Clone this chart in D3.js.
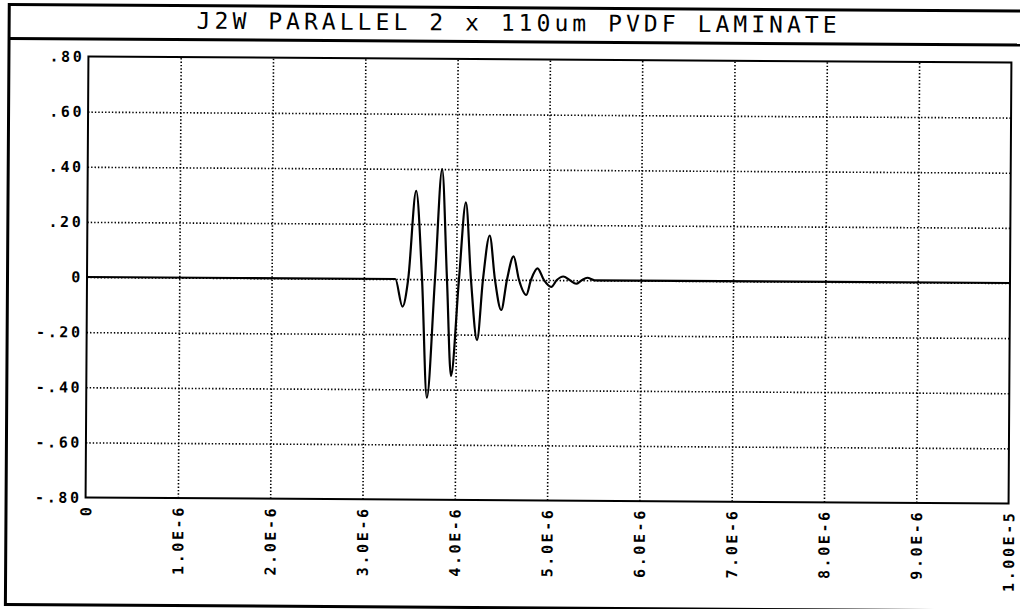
<!DOCTYPE html>
<html>
<head>
<meta charset="utf-8">
<script src="https://d3js.org/d3.v7.min.js"></script>
<style>
    body { margin: 0; background: #fff; }
    svg { display: block; }
</style>
</head>
<body>
<div id="chart"></div>
<script>
const title = 'J2W PARALLEL 2 x 110um PVDF LAMINATE'

// trace: time in microseconds, amplitude in volts
const timeUs = [0, 3.34, 3.42, 3.48, 3.56, 3.63, 3.69, 3.77, 3.84, 3.90, 3.95, 4.03, 4.10, 4.16,
    4.23, 4.29, 4.36, 4.42, 4.49, 4.55, 4.62, 4.68, 4.76, 4.81, 4.88, 4.95, 5.03, 5.09, 5.16,
    5.23, 5.30, 5.36, 5.42, 5.50, 10]
const volts = [0, 0, -0.10, 0, 0.32, 0, -0.43, 0, 0.40, 0, -0.35, 0, 0.28, 0,
    -0.22, 0, 0.16, 0, -0.11, 0, 0.085, 0, -0.055, 0, 0.042, 0, -0.025, 0, 0.013,
    0, -0.013, 0, 0.009, 0, 0]

const xTicksUs = [0, 1, 2, 3, 4, 5, 6, 7, 8, 9, 10]
const xTickLabels = ['0', '1.0E-6', '2.0E-6', '3.0E-6', '4.0E-6', '5.0E-6', '6.0E-6',
    '7.0E-6', '8.0E-6', '9.0E-6', '1.00E-5']
const yTicks = [0.8, 0.6, 0.4, 0.2, 0, -0.2, -0.4, -0.6, -0.8]
const yTickLabels = ['.80', '.60', '.40', '.20', '0', '-.20', '-.40', '-.60', '-.80']

const W = 1020, H = 609
const plotLeft = 87, plotRight = 1010, plotTop = 59.5, plotBottom = 500.5
const labelFont = '"DejaVu Sans Mono", monospace'

const svg = d3.select('#chart').append('svg')
    .attr('width', W)
    .attr('height', H)

// the scan is slightly tilted
const root = svg.append('g')
    .attr('transform', 'rotate(0.37, 548, 280)')

const x = d3.scaleLinear().domain([0, 10]).range([plotLeft, plotRight])
const y = d3.scaleLinear().domain([-0.8, 0.8]).range([plotBottom, plotTop])

// outer frame (its right side runs off the scan) and title band
root.append('rect')
    .attr('x', 7.5)
    .attr('y', 8)
    .attr('width', 1030)
    .attr('height', 600)
    .attr('fill', 'none')
    .attr('stroke', '#000')
    .attr('stroke-width', 3)

root.append('line')
    .attr('x1', 7.5)
    .attr('x2', 1030)
    .attr('y1', 42)
    .attr('y2', 42)
    .attr('stroke', '#000')
    .attr('stroke-width', 3)

root.append('text')
    .attr('x', 515)
    .attr('y', 31)
    .attr('text-anchor', 'middle')
    .attr('textLength', 640)
    .attr('lengthAdjust', 'spacing')
    .attr('font-family', labelFont)
    .attr('font-size', '23px')
    .attr('fill', '#000')
    .text(title)

// dotted grid
root.append('g')
    .attr('transform', `translate(0,${plotBottom})`)
    .call(d3.axisBottom(x)
        .tickValues(xTicksUs.slice(1, -1))
        .tickSize(-(plotBottom - plotTop))
        .tickFormat(''))
    .call(g => g.select('.domain').remove())
    .call(g => g.selectAll('line')
        .attr('stroke', '#000')
        .attr('stroke-width', 1.6)
        .attr('stroke-dasharray', '1.4,2'))

root.append('g')
    .attr('transform', `translate(${plotLeft},0)`)
    .call(d3.axisLeft(y)
        .tickValues(yTicks.slice(1, -1))
        .tickSize(-(plotRight - plotLeft))
        .tickFormat(''))
    .call(g => g.select('.domain').remove())
    .call(g => g.selectAll('line')
        .attr('stroke', '#000')
        .attr('stroke-width', 1.6)
        .attr('stroke-dasharray', '1.4,2'))

// plot frame
root.append('rect')
    .attr('x', plotLeft)
    .attr('y', plotTop)
    .attr('width', plotRight - plotLeft)
    .attr('height', plotBottom - plotTop)
    .attr('fill', 'none')
    .attr('stroke', '#000')
    .attr('stroke-width', 2)

// y labels
root.append('g')
    .attr('transform', `translate(${plotLeft},0)`)
    .call(d3.axisLeft(y)
        .tickValues(yTicks)
        .tickSize(0)
        .tickPadding(4)
        .tickFormat((d, i) => yTickLabels[i]))
    .call(g => g.select('.domain').remove())
    .call(g => g.selectAll('text')
        .attr('font-family', labelFont)
        .attr('font-weight', 'bold')
        .attr('font-size', '15px')
        .attr('letter-spacing', '2.6px')
        .attr('fill', '#000'))

// x labels, written upwards
root.append('g')
    .attr('transform', `translate(0,${plotBottom})`)
    .call(d3.axisBottom(x)
        .tickValues(xTicksUs)
        .tickSize(0)
        .tickFormat((d, i) => xTickLabels[i]))
    .call(g => g.select('.domain').remove())
    .call(g => g.selectAll('text')
        .attr('transform', 'rotate(-90)')
        .attr('text-anchor', 'end')
        .attr('x', -7)
        .attr('y', 0)
        .attr('dy', '0.35em')
        .attr('font-family', labelFont)
        .attr('font-weight', 'bold')
        .attr('font-size', '15px')
        .attr('letter-spacing', '2.6px')
        .attr('fill', '#000'))

// trace
const trace = timeUs.map((t, i) => [t, volts[i]])

root.append('path')
    .datum(trace)
    .attr('fill', 'none')
    .attr('stroke', '#000')
    .attr('stroke-width', 2.2)
    .attr('stroke-linejoin', 'round')
    .attr('d', d3.line()
        .x(d => x(d[0]))
        .y(d => y(d[1]))
        .curve(d3.curveMonotoneX))
</script>
</body>
</html>
